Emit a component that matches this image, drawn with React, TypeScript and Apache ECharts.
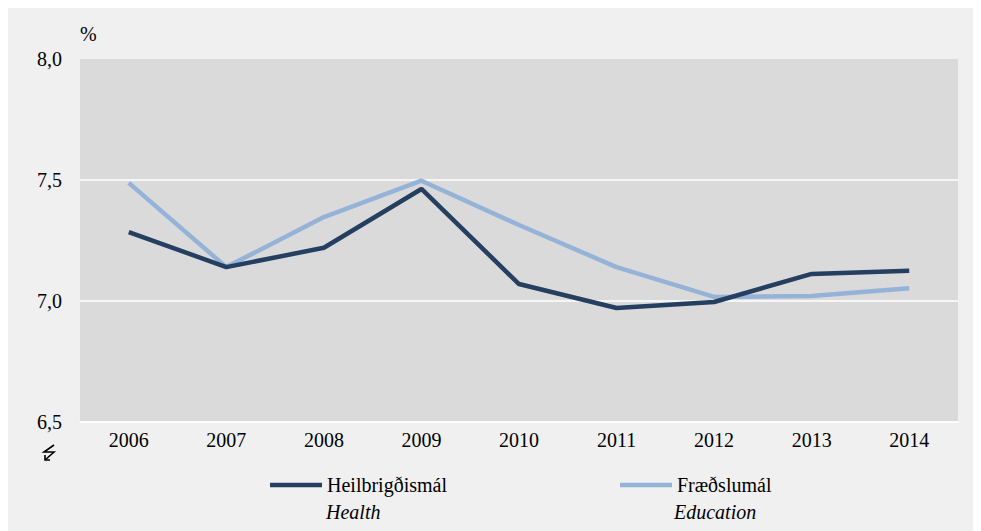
import React, { useEffect, useRef } from "react";
import * as echarts from "echarts";

const years = ["2006", "2007", "2008", "2009", "2010", "2011", "2012", "2013", "2014"];
const health = [7.285, 7.14, 7.22, 7.463, 7.07, 6.971, 6.996, 7.112, 7.125];
const education = [7.488, 7.14, 7.347, 7.497, 7.314, 7.14, 7.017, 7.021, 7.053];
const seriesNames = ["Heilbrigðismál", "Fræðslumál"];
const englishNames = ["Health", "Education"];
const colors = ["#243F60", "#95B3D7"];

const FONT = "Liberation Serif";

export default function App() {
  const ref = useRef<HTMLDivElement>(null);
  useEffect(() => {
    if (!ref.current) return;
    const chart = echarts.init(ref.current, null, { renderer: "svg" });
    chart.setOption({
      animation: false,
      backgroundColor: "#F0F0F0",
      textStyle: { fontFamily: FONT },
      grid: {
        left: 72,
        top: 51,
        width: 878,
        height: 363,
        show: true,
        backgroundColor: "#DADADA",
        borderWidth: 0,
      },
      xAxis: {
        type: "category",
        data: years,
        boundaryGap: true,
        axisLine: { show: true, lineStyle: { color: "#FFFFFF", width: 1.5 } },
        axisTick: { show: false },
        axisLabel: { color: "#000", fontSize: 20, fontFamily: FONT, margin: 8 },
      },
      yAxis: {
        type: "value",
        min: 6.5,
        max: 8.0,
        interval: 0.5,
        axisLine: { show: false },
        axisTick: { show: false },
        axisLabel: {
          color: "#000",
          fontSize: 20,
          fontFamily: FONT,
          margin: 18,
          formatter: (v: number) => v.toFixed(1).replace(".", ","),
        },
        splitLine: {
          show: true,
          lineStyle: {
            color: ["#FFFFFF", "#FFFFFF", "#FFFFFF", "rgba(0,0,0,0)"],
            width: 1.5,
          },
        },
      },
      legend: [
        {
          data: [seriesNames[0]],
          left: 257,
          top: 462,
          icon: "rect",
          itemWidth: 52,
          itemHeight: 4.5,
          textStyle: { color: "#000", fontSize: 20, fontFamily: FONT },
        },
        {
          data: [seriesNames[1]],
          left: 607,
          top: 462,
          icon: "rect",
          itemWidth: 52,
          itemHeight: 4.5,
          textStyle: { color: "#000", fontSize: 20, fontFamily: FONT },
        },
      ],
      graphic: [
        {
          type: "text",
          left: 72,
          top: 16,
          style: { text: "%", fontSize: 20, fontFamily: FONT, fill: "#000" },
        },
        {
          type: "polyline",
          shape: { points: [[46, 437], [36, 444], [46, 444], [37, 452]] },
          style: { stroke: "#000", lineWidth: 1.6, fill: null },
        },
        {
          type: "polyline",
          shape: { points: [[37, 447], [37, 452], [42, 452]] },
          style: { stroke: "#000", lineWidth: 1.6, fill: null },
        },
        {
          type: "text",
          left: 318,
          top: 494,
          style: { text: englishNames[0], fontSize: 20, fontFamily: FONT, fontStyle: "italic", fill: "#000" },
        },
        {
          type: "text",
          left: 666,
          top: 494,
          style: { text: englishNames[1], fontSize: 20, fontFamily: FONT, fontStyle: "italic", fill: "#000" },
        },
      ],
      series: [
        {
          name: seriesNames[0],
          type: "line",
          data: health,
          symbol: "none",
          color: colors[0],
          lineStyle: { color: colors[0], width: 4.5 },
          z: 3,
        },
        {
          name: seriesNames[1],
          type: "line",
          data: education,
          symbol: "none",
          color: colors[1],
          lineStyle: { color: colors[1], width: 4.5 },
          z: 2,
        },
      ],
    });
    return () => chart.dispose();
  }, []);
  return <div ref={ref} style={{ width: 973, height: 523 }} />;
}
